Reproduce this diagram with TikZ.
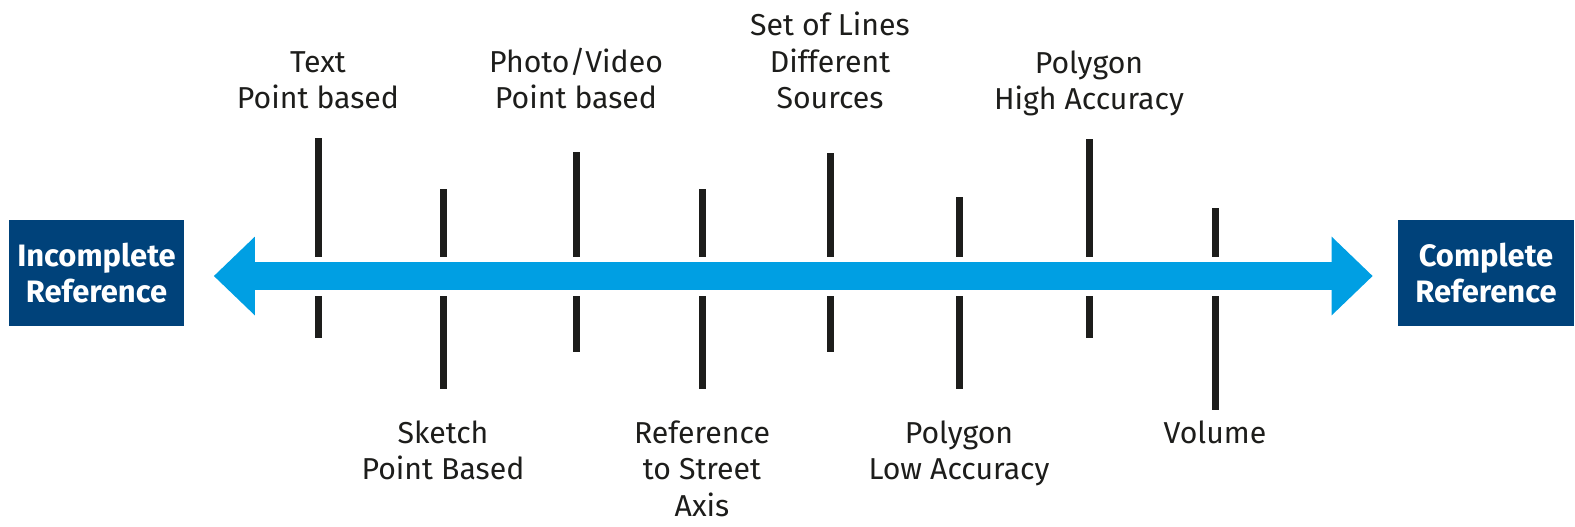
\documentclass[tikz,border=0pt]{standalone}
\usepackage{fontspec}
\setmainfont{Fira Sans}
\usepackage{tikz}
\usetikzlibrary{arrows.meta,positioning}
\definecolor{refblue}{HTML}{00427A}
\definecolor{arrowcyan}{HTML}{009FE3}
\definecolor{tickgray}{HTML}{1D1D1B}
\tikzset{%
  % Specifications for style of nodes:
      endbox/.style = {rectangle, fill=refblue, text=white,
                       minimum width=1.75cm, minimum height=1.06cm,
                       align=center, inner sep=0pt,
                       font=\bfseries\fontsize{8.8}{10.4}\selectfont},
    steplabel/.style = {align=center, text=tickgray, inner sep=0pt,
                       font=\fontsize{8.6}{10.4}\selectfont},
   ticksegment/.style = {draw=tickgray, line width=0.07cm},
    bigarrow/.style = {draw=arrowcyan, line width=0.28cm,
                       {Triangle[width=0.76cm,length=0.41cm]}-{Triangle[width=0.76cm,length=0.41cm]}},
}
\begin{document}
\begin{tikzpicture}[x=0.01cm, y=-0.01cm]
  \useasboundingbox (0,0) rectangle (1575,526);
  % Specification of the two end boxes
  \node (incomplete) [endbox] at (96.5,273) {Incomplete\\Reference};
  \node (complete)   [endbox] at (1486,273) {Complete\\Reference};
  % Ticks: x / top / bottom
  \foreach \x/\top/\bot in {318/138/338, 443/189/389, 576/152/352, 702/189/389,
                            830/153/352, 959/197/389, 1089/139/338, 1215/208/410}{
    \draw[ticksegment] (\x,\top) -- (\x,257);
    \draw[ticksegment] (\x,296) -- (\x,\bot);
  }
  % Labels above the axis
  \node (text)    [steplabel, anchor=south] at (318,110)  {Text\\Point based};
  \node (photo)   [steplabel, anchor=south] at (576,110)  {Photo/Video\\Point based};
  \node (lines)   [steplabel, anchor=south] at (830,110)  {Set of Lines\\Different\\Sources};
  \node (polyhigh)[steplabel, anchor=south] at (1089,117) {Polygon\\High Accuracy};
  % Labels below the axis
  \node (sketch)  [steplabel, anchor=north] at (443,420)  {Sketch\\Point Based};
  \node (street)  [steplabel, anchor=north] at (702,420)  {Reference\\to Street\\Axis};
  \node (polylow) [steplabel, anchor=north] at (959,420)  {Polygon\\Low Accuracy};
  \node (volume)  [steplabel, anchor=north] at (1215,420) {Volume};
  % Double arrow between the boxes
  \draw[bigarrow, shorten <=0.29cm, shorten >=0.25cm]
    ([yshift=-0.03cm]incomplete.east) -- ([yshift=-0.03cm]complete.west);
\end{tikzpicture}
\end{document}
